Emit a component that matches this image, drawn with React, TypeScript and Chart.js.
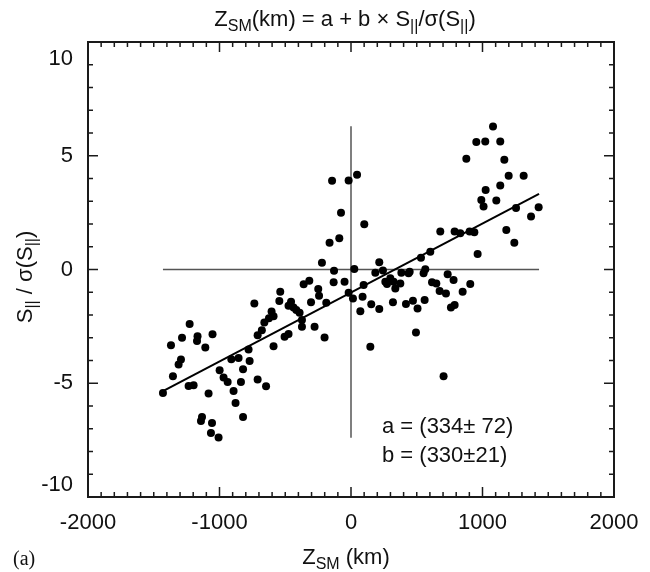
import React, { useEffect, useRef } from "react";
import { Chart, registerables } from "chart.js";

Chart.register(...registerables);

// Z_SM (km) of each event
const zSM = [
  -1430, -1354, -1369, -1311, -1293, -1285, -1227, -1235, -1197, -1167,
  -1171, -1108, -1053, -1083, -1133, -1141, -1057, -1065, -1007, -999,
  -969, -938, -893, -878, -821, -910, -855, -821, -837, -771,
  -779, -710, -646, -735, -710, -678, -659, -624, -604, -589,
  -589, -163, -89, -221, 25, -129, -132, -49, -360, -317,
  -249, -243, -538, -545, -456, -475, -437, -416, -391, -304,
  -188, -18, 15, 71, -373, -373, -277, -505, -475, -201,
  -144, -18, 46, -76, 101, 215, 185, 243, 383, 438,
  96, 261, 274, 299, 324, 337, 375, 88, 154, 215,
  446, 532, 603, 565, 552, 319, 418, 471, 506, 560,
  616, 649, 674, 722, 735, 780, 760, 788, 849, 907,
  963, 494, 147, 704, 1080, 953, 1021, 1135, 877, 1166,
  1199, 1313, 1024, 1135, 991, 1008, 1105, 1255, 1427, 1369,
  1181, 1242, 679, 788, 831, 902, 938,
];

// S_|| / sigma(S_||) of each event
const sNorm = [
  -5.43, -4.69, -3.33, -4.18, -3.96, -3.0, -2.4, -5.12, -5.09, -2.93,
  -3.14, -3.43, -2.85, -5.45, -6.48, -6.66, -6.75, -7.19, -7.39, -4.43,
  -4.75, -4.94, -5.34, -5.87, -6.48, -3.94, -3.89, -4.38, -4.94, -4.02,
  -3.52, -4.84, -5.13, -1.49, -2.89, -2.67, -2.33, -2.14, -1.85, -2.05,
  -3.37, 1.18, 1.37, 0.3, 0.02, -0.05, -0.56, -0.54, -0.65, -0.49,
  -0.86, -1.15, -0.98, -1.39, -1.42, -1.59, -1.67, -1.78, -1.9, -1.44,
  -1.46, -1.02, -1.27, -1.83, -2.22, -2.52, -2.52, -2.96, -2.84, -2.99,
  3.9, 3.91, 4.16, 2.5, 1.99, 0.32, -0.14, -0.04, -0.14, -0.17,
  -0.68, -0.54, -0.64, -0.39, -0.54, -0.83, -0.61, -1.2, -1.53, -1.74,
  -0.1, 0.52, 0.78, 0.01, -0.17, -1.44, -1.52, -1.37, -1.71, -1.34,
  -0.56, -0.61, -0.95, -1.05, -0.21, -0.46, -1.67, -1.56, -0.98, -0.64,
  0.68, -2.77, -3.4, -4.69, 6.29, 5.6, 5.63, 5.63, 4.87, 4.82,
  4.12, 4.12, 3.5, 3.69, 3.06, 2.77, 3.03, 2.7, 2.74, 2.33,
  1.74, 1.18, 1.67, 1.67, 1.59, 1.67, 1.64,
];

// fitted line end points
const fitZ = [-1430, 1430];
const fitS = [-5.35, 3.32];

// reference cross lines
const hLineZ = [-1430, 1430];
const hLineS = [0, 0];
const vLineZ = [0, 0];
const vLineS = [6.3, -7.4];

const xTickValues = [-2000, -1000, 0, 1000, 2000];
const xTickLabels = ["-2000", "-1000", "0", "1000", "2000"];
const yTickValues = [-10, -5, 0, 5, 10];
const yTickLabels = ["-10", "-5", "0", "5", "10"];
const xMin = -2000;
const xMax = 2000;
const yMin = -10;
const yMax = 10;
const xMinorStep = 100;
const yMinorStep = 1;

const fitText = ["a = (334\u00b1 72)", "b = (330\u00b121)"];

const SANS = '"Liberation Sans", Arial, Helvetica, sans-serif';
const SERIF = '"Liberation Serif", "Times New Roman", serif';

type Run = { t: string; s: number; d: number };

function drawRuns(ctx: CanvasRenderingContext2D, runs: Run[], x: number, y: number, align: "center" | "left") {
  let w = 0;
  for (const r of runs) {
    ctx.font = `${r.s}px ${SANS}`;
    w += ctx.measureText(r.t).width;
  }
  let cx = align === "center" ? x - w / 2 : x;
  ctx.textAlign = "left";
  ctx.textBaseline = "alphabetic";
  for (const r of runs) {
    ctx.font = `${r.s}px ${SANS}`;
    ctx.fillText(r.t, cx, y + r.d);
    cx += ctx.measureText(r.t).width;
  }
}

const framePlugin = {
  id: "frame",
  afterDatasetsDraw(chart: any) {
    const ctx: CanvasRenderingContext2D = chart.ctx;
    const a = chart.chartArea;
    const xs = chart.scales.x;
    const ys = chart.scales.y;
    ctx.save();
    ctx.strokeStyle = "#1a1a1a";
    ctx.lineWidth = 1.5;
    const seg = (x1: number, y1: number, x2: number, y2: number) => {
      ctx.beginPath();
      ctx.moveTo(x1, y1);
      ctx.lineTo(x2, y2);
      ctx.stroke();
    };
    const nx = Math.round((xMax - xMin) / xMinorStep);
    for (let i = 0; i <= nx; i++) {
      const v = xMin + i * xMinorStep;
      const px = xs.getPixelForValue(v);
      const len = xTickValues.includes(v) ? 10 : 5;
      seg(px, a.bottom, px, a.bottom - len);
      seg(px, a.top, px, a.top + len);
    }
    const ny = Math.round((yMax - yMin) / yMinorStep);
    for (let i = 0; i <= ny; i++) {
      const v = yMin + i * yMinorStep;
      const py = ys.getPixelForValue(v);
      const len = yTickValues.includes(v) ? 10 : 5;
      seg(a.left, py, a.left + len, py);
      seg(a.right, py, a.right - len, py);
    }
    ctx.lineWidth = 2;
    ctx.strokeRect(a.left, a.top, a.right - a.left, a.bottom - a.top);

    // tick labels
    ctx.fillStyle = "#111";
    ctx.font = `22px ${SANS}`;
    ctx.textAlign = "center";
    ctx.textBaseline = "alphabetic";
    xTickValues.forEach((v, i) => {
      ctx.fillText(xTickLabels[i], xs.getPixelForValue(v), a.bottom + 32);
    });
    ctx.textAlign = "right";
    ctx.textBaseline = "middle";
    yTickValues.forEach((v, i) => {
      let py = ys.getPixelForValue(v);
      if (v === yMax) py += 17;
      if (v === yMin) py -= 12;
      ctx.fillText(yTickLabels[i], a.left - 15, py);
    });

    // title
    drawRuns(
      ctx,
      [
        { t: "Z", s: 22, d: 0 },
        { t: "SM", s: 16, d: 5 },
        { t: "(km) = a + b \u00d7 S", s: 22, d: 0 },
        { t: "||", s: 16, d: 5 },
        { t: "/\u03c3(S", s: 22, d: 0 },
        { t: "||", s: 16, d: 5 },
        { t: ")", s: 22, d: 0 },
      ],
      345,
      26,
      "center"
    );

    // x axis title
    drawRuns(
      ctx,
      [
        { t: "Z", s: 22, d: 0 },
        { t: "SM", s: 16, d: 5 },
        { t: " (km)", s: 22, d: 0 },
      ],
      346,
      564,
      "center"
    );

    // y axis title
    ctx.save();
    ctx.translate(32, 277);
    ctx.rotate(-Math.PI / 2);
    drawRuns(
      ctx,
      [
        { t: "S", s: 22, d: 0 },
        { t: "||", s: 16, d: 5 },
        { t: " / \u03c3(S", s: 22, d: 0 },
        { t: "||", s: 16, d: 5 },
        { t: ")", s: 22, d: 0 },
      ],
      0,
      0,
      "center"
    );
    ctx.restore();

    // fit parameters
    ctx.font = `22px ${SANS}`;
    ctx.textAlign = "left";
    ctx.textBaseline = "alphabetic";
    ctx.fillText(fitText[0], 382, 433);
    ctx.fillText(fitText[1], 382, 462);

    // panel label
    ctx.font = `20px ${SERIF}`;
    ctx.fillText("(a)", 13, 565);
    ctx.restore();
  },
};

export default function App() {
  const ref = useRef<HTMLCanvasElement | null>(null);

  useEffect(() => {
    document.body.style.margin = "0";
    const canvas = ref.current;
    if (!canvas) return;
    const chart = new Chart(canvas, {
      type: "scatter",
      data: {
        datasets: [
          {
            label: "fit",
            data: fitZ.map((v, i) => ({ x: v, y: fitS[i] })),
            showLine: true,
            borderColor: "#000",
            borderWidth: 2,
            pointRadius: 0,
            order: 0,
          },
          {
            label: "events",
            data: zSM.map((v, i) => ({ x: v, y: sNorm[i] })),
            pointRadius: 4,
            pointBackgroundColor: "#000",
            pointBorderWidth: 0,
            borderWidth: 0,
            order: 1,
          },
          {
            label: "h0",
            data: hLineZ.map((v, i) => ({ x: v, y: hLineS[i] })),
            showLine: true,
            borderColor: "#555",
            borderWidth: 1.5,
            pointRadius: 0,
            order: 2,
          },
          {
            label: "v0",
            data: vLineZ.map((v, i) => ({ x: v, y: vLineS[i] })),
            showLine: true,
            borderColor: "#555",
            borderWidth: 1.5,
            pointRadius: 0,
            order: 3,
          },
        ],
      } as any,
      options: {
        responsive: false,
        animation: false,
        devicePixelRatio: 1,
        events: [],
        layout: { padding: { left: 88, right: 36, top: 42, bottom: 75 } },
        plugins: {
          legend: { display: false },
          tooltip: { enabled: false },
          title: { display: false },
        },
        scales: {
          x: { type: "linear", min: xMin, max: xMax, display: false },
          y: { type: "linear", min: yMin, max: yMax, display: false },
        },
      } as any,
      plugins: [framePlugin],
    });
    return () => chart.destroy();
  }, []);

  return (
    <div style={{ width: 650, height: 572, background: "#fff" }}>
      <canvas ref={ref} width={650} height={572} style={{ display: "block" }} />
    </div>
  );
}
